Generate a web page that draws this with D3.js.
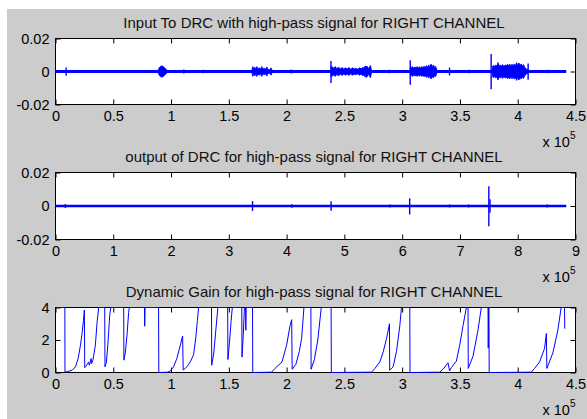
<!DOCTYPE html>
<html>
<head>
<meta charset="utf-8">
<script src="https://cdnjs.cloudflare.com/ajax/libs/d3/7.8.5/d3.min.js"></script>
<style>
  body { margin: 0; background: #fff; }
  svg { display: block; font-family: "Liberation Sans", Arial, sans-serif; }
</style>
</head>
<body>
<svg id="canvas" width="587" height="419"></svg>
<script>
// ************************************************************************************** //
// Data  (x values in units of 1e5 samples)

var titles = [
  'Input To DRC with high-pass signal for RIGHT CHANNEL',
  'output of DRC for high-pass signal for RIGHT CHANNEL',
  'Dynamic Gain for high-pass signal for RIGHT CHANNEL'
];
var xTicksA = [0, 0.5, 1, 1.5, 2, 2.5, 3, 3.5, 4, 4.5];
var xTicksB = [0, 1, 2, 3, 4, 5, 6, 7, 8, 9];
var yTicksSig = [-0.02, 0, 0.02];
var yTicksGain = [0, 2, 4];

// input signal: flat line, isolated spikes [x, lo, hi], bursts as envelopes [x, amp]
var inBase = [[0, 0], [4.42, 0]];
var inSpikes = [
  [0.092, -0.0026, 0.0024], [1.11, -0.0012, 0.0012], [1.28, -0.0010, 0.0010],
  [2.04, -0.0012, 0.0012], [2.384, -0.0070, 0.0064], [2.69, -0.0036, 0.0034],
  [2.725, -0.0038, 0.0036], [2.89, -0.0010, 0.0010],
  [3.07, -0.0080, 0.0068], [3.25, -0.0046, 0.0044], [3.41, -0.0024, 0.0024], [3.58, -0.0010, 0.0010],
  [3.77, -0.0108, 0.0106], [3.83, -0.0050, 0.0055], [3.99, -0.0055, 0.0055],
  [4.01, -0.0050, 0.0052], [4.09, -0.0050, 0.0048], [4.26, -0.0010, 0.0010]
];
var inBurst1 = [[0.890, 0.0012], [0.900, 0.0026], [0.910, 0.0032], [0.920, 0.0034], [0.930, 0.0032],
  [0.940, 0.0026], [0.950, 0.0018], [0.960, 0.0012], [0.970, 0.0006]];
var inBurst2 = [[1.700, 0.0010], [1.707, 0.0030], [1.715, 0.0018], [1.725, 0.0026], [1.735, 0.0016],
  [1.742, 0.0030], [1.752, 0.0016], [1.765, 0.0022], [1.775, 0.0014], [1.785, 0.0030], [1.795, 0.0015],
  [1.808, 0.0020], [1.818, 0.0013], [1.828, 0.0028], [1.840, 0.0012], [1.852, 0.0010], [1.866, 0.0022],
  [1.874, 0.0008]];
var inBurst3 = [[2.384, 0.0030], [2.395, 0.0028], [2.41, 0.0020], [2.42, 0.0030], [2.435, 0.0018],
  [2.45, 0.0026], [2.465, 0.0016], [2.48, 0.0024], [2.495, 0.0015], [2.51, 0.0022], [2.525, 0.0016],
  [2.54, 0.0024], [2.555, 0.0014], [2.57, 0.0022], [2.585, 0.0016], [2.60, 0.0020], [2.615, 0.0014],
  [2.63, 0.0022], [2.645, 0.0016], [2.66, 0.0026], [2.67, 0.0020], [2.68, 0.0034], [2.69, 0.0018],
  [2.70, 0.0030], [2.71, 0.0016], [2.725, 0.0034], [2.735, 0.0008]];
var inBurst4 = [[3.07, 0.0028], [3.08, 0.0022], [3.09, 0.0030], [3.10, 0.0020], [3.11, 0.0028],
  [3.12, 0.0022], [3.13, 0.0030], [3.14, 0.0022], [3.15, 0.0028], [3.16, 0.0022], [3.17, 0.0030],
  [3.18, 0.0024], [3.19, 0.0032], [3.20, 0.0024], [3.21, 0.0036], [3.22, 0.0026], [3.23, 0.0040],
  [3.24, 0.0028], [3.25, 0.0042], [3.26, 0.0030], [3.27, 0.0040], [3.28, 0.0026], [3.29, 0.0030],
  [3.30, 0.0010]];
var inBurst5 = [[3.78, 0.0030], [3.79, 0.0038], [3.80, 0.0030], [3.81, 0.0040], [3.82, 0.0032],
  [3.83, 0.0048], [3.84, 0.0034], [3.85, 0.0040], [3.86, 0.0032], [3.87, 0.0042], [3.88, 0.0030],
  [3.89, 0.0040], [3.90, 0.0034], [3.91, 0.0044], [3.92, 0.0034], [3.93, 0.0046], [3.94, 0.0034],
  [3.95, 0.0044], [3.96, 0.0036], [3.97, 0.0046], [3.98, 0.0036], [3.99, 0.0050], [4.00, 0.0036],
  [4.01, 0.0050], [4.02, 0.0038], [4.03, 0.0046], [4.04, 0.0034], [4.05, 0.0042], [4.06, 0.0026],
  [4.07, 0.0020], [4.08, 0.0012], [4.10, 0.0008]];
var inBursts = [inBurst1, inBurst2, inBurst3, inBurst4, inBurst5];

// output signal
var outBase = [[0, 0], [8.84, 0]];
var outSpikes = [
  [0.17, -0.0012, 0.0012], [2.23, -0.0006, 0.0006], [3.41, -0.0030, 0.0030],
  [4.09, -0.0010, 0.0010], [4.77, -0.0028, 0.0028], [5.79, -0.0009, 0.0009],
  [6.13, -0.0050, 0.0046], [6.82, -0.0009, 0.0009], [7.15, -0.0009, 0.0009],
  [7.50, -0.0121, 0.0118], [7.52, -0.0040, 0.0040], [8.51, -0.0009, 0.0009]
];

// dynamic gain
var gainX = [0, 0.081, 0.082, 0.10, 0.144, 0.173, 0.196, 0.216, 0.23, 0.242, 0.25, 0.253, 0.27, 0.288,
  0.292, 0.300, 0.308, 0.312, 0.325, 0.345, 0.36, 0.374, 0.426, 0.428, 0.44, 0.455, 0.469, 0.478,
  0.59, 0.592, 0.605, 0.619, 0.633, 0.639, 0.77, 0.772, 0.775, 0.892, 0.894,
  0.97, 0.993, 1.022, 1.05, 1.08, 1.10, 1.105, 1.137, 1.17, 1.195, 1.215, 1.228, 1.238, 1.35, 1.352,
  1.37, 1.39, 1.405, 1.49, 1.492, 1.505, 1.52, 1.53, 1.612, 1.614, 1.625, 1.635, 1.645, 1.647, 1.65,
  1.705, 1.707,
  1.87, 1.90, 1.96, 2.00, 2.03, 2.044, 2.048, 2.08, 2.11, 2.13, 2.15, 2.21, 2.212, 2.24, 2.27, 2.30,
  2.385, 2.387,
  2.735, 2.764, 2.807, 2.836, 2.865, 2.885, 2.89, 2.892, 2.922, 2.951, 2.98, 2.994, 3.066, 3.068,
  3.325, 3.354, 3.397, 3.41, 3.426, 3.469, 3.498, 3.527, 3.556, 3.57, 3.572, 3.613, 3.656, 3.685,
  3.743, 3.745, 3.748, 3.751, 3.753,
  4.117, 4.146, 4.189, 4.232, 4.248, 4.252, 4.304, 4.347, 4.376, 4.405, 4.407];
var gainY = [4, 4, 0.02, 0.05, 0.14, 0.35, 0.86, 1.68, 2.4, 3.2, 3.85, 0.3, 0.45, 0.65,
  0.45, 0.6, 0.86, 0.55, 0.8, 1.68, 3.1, 4, 4, 0.35, 0.6, 1.9, 3.5, 4,
  4, 0.76, 1.27, 2.3, 3.7, 4, 4, 2.85, 4, 4, 0,
  0.02, 0.1, 0.35, 0.86, 1.68, 2.25, 0.15, 0.35, 0.7, 1.1, 2.2, 3.2, 4, 4, 0.45,
  1.2, 2.8, 4, 4, 0.8, 1.8, 3.2, 4, 4, 0.95, 2.3, 4, 4, 2.6, 4,
  4, 0,
  0.02, 0.25, 0.65, 1.68, 2.9, 3.25, 0.2, 0.5, 1.3, 2.1, 4, 4, 0.2, 0.8, 2.0, 4,
  4, 0,
  0.02, 0.25, 0.65, 1.27, 2.1, 2.8, 3.0, 0.14, 0.35, 1.3, 2.9, 4, 4, 0,
  0.02, 0.2, 0.6, 0.1, 0.3, 0.7, 1.68, 2.9, 4, 4, 0.25, 1.0, 2.6, 4,
  4, 1.5, 4, 4, 0,
  0.02, 0.25, 0.65, 1.48, 2.4, 0.25, 1.2, 2.6, 4, 4, 2.7];

// ************************************************************************************** //
// Layout

var plot_left = 55.5, plot_right = 575.5;
var panels = [
  { top: 38.5, bottom: 104.5, xDomain: [0, 4.5], yDomain: [-0.02, 0.02], xTicks: xTicksA, yTicks: yTicksSig, title: titles[0] },
  { top: 172.5, bottom: 239.5, xDomain: [0, 9], yDomain: [-0.02, 0.02], xTicks: xTicksB, yTicks: yTicksSig, title: titles[1] },
  { top: 307.5, bottom: 372.5, xDomain: [0, 4.5], yDomain: [0, 4], xTicks: xTicksA, yTicks: yTicksGain, title: titles[2] }
];
var blue = '#0000ff';
var tick_font = 14.5, title_font = 15;

var svg = d3.select('#canvas');
svg.append('rect').attr('x', 7).attr('y', 9).attr('width', 580).attr('height', 410).attr('fill', '#cccccc');

// ************************************************************************************** //
// Axes

function makeAxes(p, i){
  var g = svg.append('g');
  p.x = d3.scaleLinear().domain(p.xDomain).range([plot_left, plot_right]);
  p.y = d3.scaleLinear().domain(p.yDomain).range([p.bottom, p.top]);

  g.append('rect')
    .attr('x', plot_left).attr('y', p.top)
    .attr('width', plot_right - plot_left).attr('height', p.bottom - p.top)
    .attr('fill', '#fff').attr('stroke', '#000').attr('stroke-width', 1);

  var fmt = function(d){ return String(d); };
  var axes = [
    { ax: d3.axisBottom(p.x).tickValues(p.xTicks).tickFormat(fmt).tickPadding(6), t: 'translate(0,' + p.bottom + ')' },
    { ax: d3.axisTop(p.x).tickValues(p.xTicks).tickFormat(''), t: 'translate(0,' + p.top + ')' },
    { ax: d3.axisLeft(p.y).tickValues(p.yTicks).tickFormat(fmt).tickPadding(6), t: 'translate(' + plot_left + ',0)' },
    { ax: d3.axisRight(p.y).tickValues(p.yTicks).tickFormat(''), t: 'translate(' + plot_right + ',0)' }
  ];
  axes.forEach(function(a){
    var ag = g.append('g').attr('transform', a.t)
      .call(a.ax.tickSizeInner(-5).tickSizeOuter(0));
    ag.select('.domain').remove();
    ag.selectAll('line').attr('stroke', '#000');
    ag.selectAll('text').attr('fill', '#000').style('font-size', tick_font + 'px')
      .style('font-family', '"Liberation Sans", Arial, sans-serif');
  });

  g.append('text')
    .attr('x', 314).attr('y', p.top - 10.5)
    .attr('text-anchor', 'middle').attr('fill', '#111')
    .style('font-size', title_font + 'px')
    .text(p.title);

  var ex = g.append('text')
    .attr('x', plot_right).attr('y', p.bottom + 42)
    .attr('text-anchor', 'end').attr('fill', '#000')
    .style('font-size', tick_font + 'px')
    .text('x 10');
  ex.append('tspan').attr('dy', -8).style('font-size', '10px').text('5');

  g.append('clipPath').attr('id', 'clip' + i)
    .append('rect')
    .attr('x', plot_left - 1).attr('y', p.top - 1)
    .attr('width', plot_right - plot_left + 2).attr('height', p.bottom - p.top + 2);
  p.data = svg.append('g').attr('clip-path', 'url(#clip' + i + ')');
}
panels.forEach(makeAxes);

// ************************************************************************************** //
// Signal panels

function drawSignal(p, base, spikes, bursts, baseWidth){
  var line = d3.line().x(function(d){ return p.x(d[0]); }).y(function(d){ return p.y(d[1]); });
  p.data.append('path').datum(base).attr('d', line)
    .attr('fill', 'none').attr('stroke', blue).attr('stroke-width', baseWidth);

  var area = d3.area()
    .x(function(d){ return p.x(d[0]); })
    .y0(function(d){ return p.y(-d[1]); })
    .y1(function(d){ return p.y(d[1]); });
  p.data.selectAll('path.burst').data(bursts).enter().append('path')
    .attr('class', 'burst').attr('d', area)
    .attr('fill', blue).attr('stroke', blue).attr('stroke-width', 0.8);

  p.data.selectAll('line.spike').data(spikes).enter().append('line')
    .attr('class', 'spike')
    .attr('x1', function(d){ return p.x(d[0]); }).attr('x2', function(d){ return p.x(d[0]); })
    .attr('y1', function(d){ return p.y(d[1]); }).attr('y2', function(d){ return p.y(d[2]); })
    .attr('stroke', blue).attr('stroke-width', 1.4);
}
drawSignal(panels[0], inBase, inSpikes, inBursts, 3);
drawSignal(panels[1], outBase, outSpikes, [], 2.5);

// ************************************************************************************** //
// Gain panel

var p3 = panels[2];
var gainPts = gainX.map(function(d, i){ return [d, gainY[i]]; });
p3.data.append('path').datum(gainPts)
  .attr('d', d3.line().x(function(d){ return p3.x(d[0]); }).y(function(d){ return p3.y(d[1]); }))
  .attr('fill', 'none').attr('stroke', blue).attr('stroke-width', 1);
</script>
</body>
</html>
